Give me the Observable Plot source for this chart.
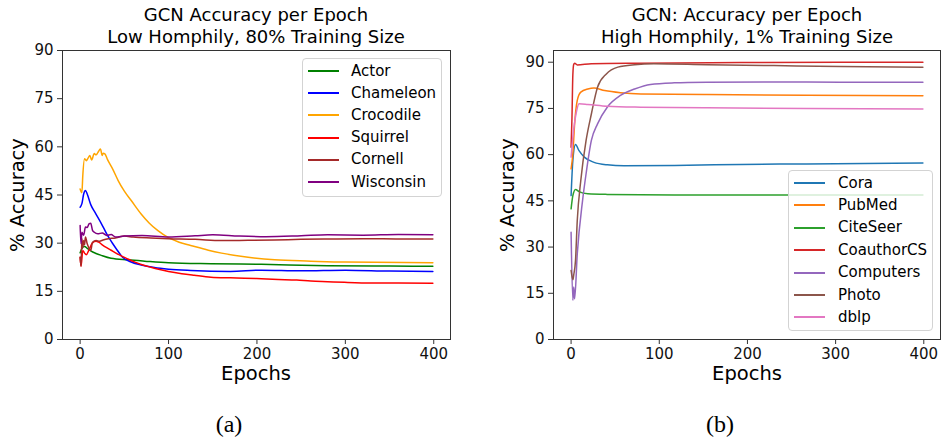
<!DOCTYPE html>
<html><head><meta charset="utf-8">
<script src="https://cdn.jsdelivr.net/npm/d3@7"></script>
<script src="https://cdn.jsdelivr.net/npm/@observablehq/plot@0.6"></script>
<style>
body{margin:0;background:#fff;}
#wrap{position:relative;width:941px;height:439px;overflow:hidden;font-family:"DejaVu Sans",sans-serif;color:#000;}
.abs{position:absolute;white-space:nowrap;}
.title{font-size:18px;line-height:22px;text-align:center;transform:translateX(-50%);}
.alabel{font-size:19.5px;line-height:22px;transform:translate(-50%,-50%);}
.ylabel{font-size:19.5px;line-height:22px;transform:translate(-50%,-50%) rotate(-90deg);}
.cap{font-family:"Liberation Serif",serif;font-size:24px;transform:translate(-50%,-50%);}
.legend{border:1px solid #d3d3d3;border-radius:4px;background:rgba(255,255,255,0.8);box-sizing:border-box;}
.row{position:absolute;font-size:15px;line-height:18px;}
.sw{position:absolute;height:2px;}
svg{position:absolute;overflow:visible;}
</style></head>
<body><div id="wrap"></div>
<script>
// ---------- Panel (a): Low homophily, 80% training ----------
const xTicks = [0, 100, 200, 300, 400];
const yTicks = [0, 15, 30, 45, 60, 75, 90];

const actorEpoch = [0,2,4,5,8,12,18,24,35,54,73,100,148,205,280,350,399];
const actorAcc   = [27.0,28.3,29.0,29.0,28.4,27.6,26.8,26.2,25.3,24.8,24.4,23.9,23.6,23.4,23.0,22.9,22.8];

const chameleonEpoch = [0,2,4,6,8,12,17,22,27,31,36,41,48,57,69,84,100,125,170,205,250,300,350,399];
const chameleonAcc   = [41.2,42.3,45.3,46.4,45.3,42.0,39.5,37.1,34.5,32.4,30.2,28.2,25.6,24.2,23.2,22.4,21.9,21.5,21.2,21.6,21.4,21.6,21.3,21.2];

const crocodileEpoch = [0,2,3,5,7,9,11,13,16,18,20,23,25,26,28,31,37,43,50,58,69,78,88,100,112,125,145,160,190,220,261,300,399];
const crocodileAcc   = [46.9,45.7,51.0,56.3,55.7,56.5,57.3,55.9,57.9,57.5,58.2,59.3,57.3,58.0,57.8,56.0,53.0,49.5,46.2,43.2,39.1,36.3,33.9,31.7,30.3,29.3,27.8,26.9,25.6,24.8,24.4,24.1,23.9];

const squirrelEpoch = [0,1,3,5,7,10,14,18,21,25,30,35,40,46,53,62,70,80,90,100,115,129,148,170,186,205,224,245,261,280,299,330,360,399];
const squirrelAcc   = [25.6,22.8,27.7,26.9,26.4,27.9,30.1,30.6,30.3,29.5,28.6,27.8,27.0,26.1,25.2,24.1,23.3,22.5,21.8,21.2,20.5,20.0,19.4,19.2,19.1,18.9,18.7,18.5,18.2,18.0,17.8,17.6,17.6,17.5];

const cornellEpoch = [0,1,2,3,4,5,6,8,10,12,14,18,22,26,32,40,44,50,60,80,100,130,160,190,220,250,280,320,360,399];
const cornellAcc   = [25.6,22.8,31.4,28.6,30.8,29.5,31.9,29.8,28.5,27.7,30.3,30.8,30.6,31.0,31.4,31.6,31.9,32.2,31.9,31.6,31.4,31.2,30.8,30.9,31.0,31.2,31.3,31.4,31.3,31.3];

const wisconsinEpoch = [0,1,2,4,6,8,10,12,14,16,20,25,30,35,40,50,70,100,130,150,180,210,250,280,320,360,399];
const wisconsinAcc   = [35.5,29.8,33.4,32.5,35.0,34.9,36.0,36.2,34.0,33.4,32.9,33.2,32.4,32.7,31.9,32.2,32.4,31.9,32.3,32.6,32.2,32.0,32.3,32.6,32.5,32.7,32.6];

// ---------- Panel (b): High homophily, 1% training ----------
const coraEpoch = [0,2,5,9,15,26,41,60,117,192,267,399];
const coraAcc   = [46.7,58.1,63.3,61.3,59.2,57.5,56.7,56.4,56.5,56.8,57.0,57.3];

const pubmedEpoch = [0,2,4,7,11,19,26,38,56,79,154,267,399];
const pubmedAcc   = [55.4,60.3,70.0,77.6,80.3,81.3,81.6,80.8,80.1,79.7,79.5,79.3,79.1];

const citeseerEpoch = [0,2,5,9,19,41,117,399];
const citeseerAcc   = [42.4,46.7,48.7,48.0,47.3,47.1,46.9,46.9];

const coauthorEpoch = [0,1,2,3,4,7,23,79,192,399];
const coauthorAcc   = [62.4,72.0,86.0,89.3,89.7,89.1,89.5,89.7,89.9,90.0];

const computersEpoch = [0,2,3,4,7,13,17,23,30,41,56,72,90,117,154,230,305,399];
const computersAcc   = [34.8,12.7,17.0,13.2,27.8,45.1,53.8,64.6,70.0,75.4,79.2,81.3,82.8,83.3,83.5,83.6,83.5,83.5];

const photoEpoch = [0,2,3,5,7,11,17,23,30,40,53,72,94,154,230,305,399];
const photoAcc   = [22.4,19.4,21.0,25.6,38.6,51.6,64.6,73.2,81.9,86.2,88.4,89.2,89.5,89.2,88.9,88.6,88.4];

const dblpEpoch = [0,2,6,9,19,41,79,154,267,399];
const dblpAcc   = [59.2,65.7,73.8,76.5,76.3,75.7,75.4,75.2,75.0,74.8];

const namesA = ["Actor","Chameleon","Crocodile","Squirrel","Cornell","Wisconsin"];
const namesB = ["Cora","PubMed","CiteSeer","CoauthorCS","Computers","Photo","dblp"];

// styles (kept separate from data)
const colorsA = ["green","blue","orange","red","brown","purple"];
const colorsB = ["#1f77b4","#ff7f0e","#2ca02c","#d62728","#9467bd","#8c564b","#e377c2"];

const seriesA = [[actorEpoch,actorAcc],[chameleonEpoch,chameleonAcc],[crocodileEpoch,crocodileAcc],
  [squirrelEpoch,squirrelAcc],[cornellEpoch,cornellAcc],[wisconsinEpoch,wisconsinAcc]];
const seriesB = [[coraEpoch,coraAcc],[pubmedEpoch,pubmedAcc],[citeseerEpoch,citeseerAcc],
  [coauthorEpoch,coauthorAcc],[computersEpoch,computersAcc],[photoEpoch,photoAcc],[dblpEpoch,dblpAcc]];

const wrap = document.getElementById("wrap");

function makePanel(series, colors, yDomain, w, left, mL, mR) {
  const marks = [];
  series.forEach(([ep, acc], i) => {
    const rows = ep.map((e, j) => ({epoch: e, acc: acc[j]}));
    marks.push(Plot.line(rows, {x: "epoch", y: "acc", stroke: colors[i], strokeWidth: 1.5, curve: "monotone-x"}));
  });
  marks.push(Plot.frame({stroke: "#333", strokeWidth: 1}));
  marks.push(Plot.axisX({ticks: xTicks, tickFormat: d => d, tickSize: 5, tickPadding: 4, fontSize: 15, label: null, stroke: "#333"}));
  marks.push(Plot.axisY({ticks: yTicks, tickFormat: d => d, tickSize: 5, tickPadding: 4, fontSize: 15, label: null, stroke: "#333"}));
  const svg = Plot.plot({
    width: w, height: 439,
    marginLeft: mL, marginRight: mR, marginTop: 50, marginBottom: 100,
    style: {fontFamily: "DejaVu Sans", fontSize: "15px", color: "#111", background: "transparent"},
    x: {domain: [-19.95, 418.95]},
    y: {domain: yDomain},
    marks
  });
  svg.style.left = left + "px";
  svg.style.top = "0px";
  wrap.appendChild(svg);
}

makePanel(seriesA, colorsA, [0, 90], 470, 0, 62, 20);
makePanel(seriesB, colorsB, [0, 93.8], 451, 490, 63, 1);

function addDiv(cls, text, x, y) {
  const d = document.createElement("div");
  d.className = "abs " + cls;
  d.textContent = text;
  d.style.left = x + "px";
  d.style.top = y + "px";
  wrap.appendChild(d);
  return d;
}
addDiv("title", "GCN Accuracy per Epoch", 256, 4);
addDiv("title", "Low Homphily, 80% Training Size", 256, 26);
addDiv("title", "GCN: Accuracy per Epoch", 747, 4);
addDiv("title", "High Homphily, 1% Training Size", 747, 26);
addDiv("alabel", "Epochs", 256, 374);
addDiv("alabel", "Epochs", 747, 374);
addDiv("ylabel", "% Accuracy", 18, 195);
addDiv("ylabel", "% Accuracy", 508, 195);
addDiv("cap", "(a)", 229, 424);
addDiv("cap", "(b)", 720, 424);

function legend(names, colors, x, y, w, h, rowY0, dy, swX, txtX) {
  const box = document.createElement("div");
  box.className = "abs legend";
  Object.assign(box.style, {left: x + "px", top: y + "px", width: w + "px", height: h + "px"});
  names.forEach((n, i) => {
    const cy = rowY0 + i * dy - y;
    const sw = document.createElement("div");
    sw.className = "sw";
    Object.assign(sw.style, {left: (swX - x) + "px", top: (cy - 1) + "px", width: "31px", background: colors[i]});
    box.appendChild(sw);
    const t = document.createElement("div");
    t.className = "row";
    t.textContent = n;
    Object.assign(t.style, {left: (txtX - x) + "px", top: (cy - 9.5) + "px"});
    box.appendChild(t);
  });
  wrap.appendChild(box);
}
legend(namesA, colorsA, 302, 58, 140, 139, 70, 22.2, 307, 350);
legend(namesB, colorsB, 788, 170, 145, 161, 182, 22.4, 793, 837);
</script></body></html>
